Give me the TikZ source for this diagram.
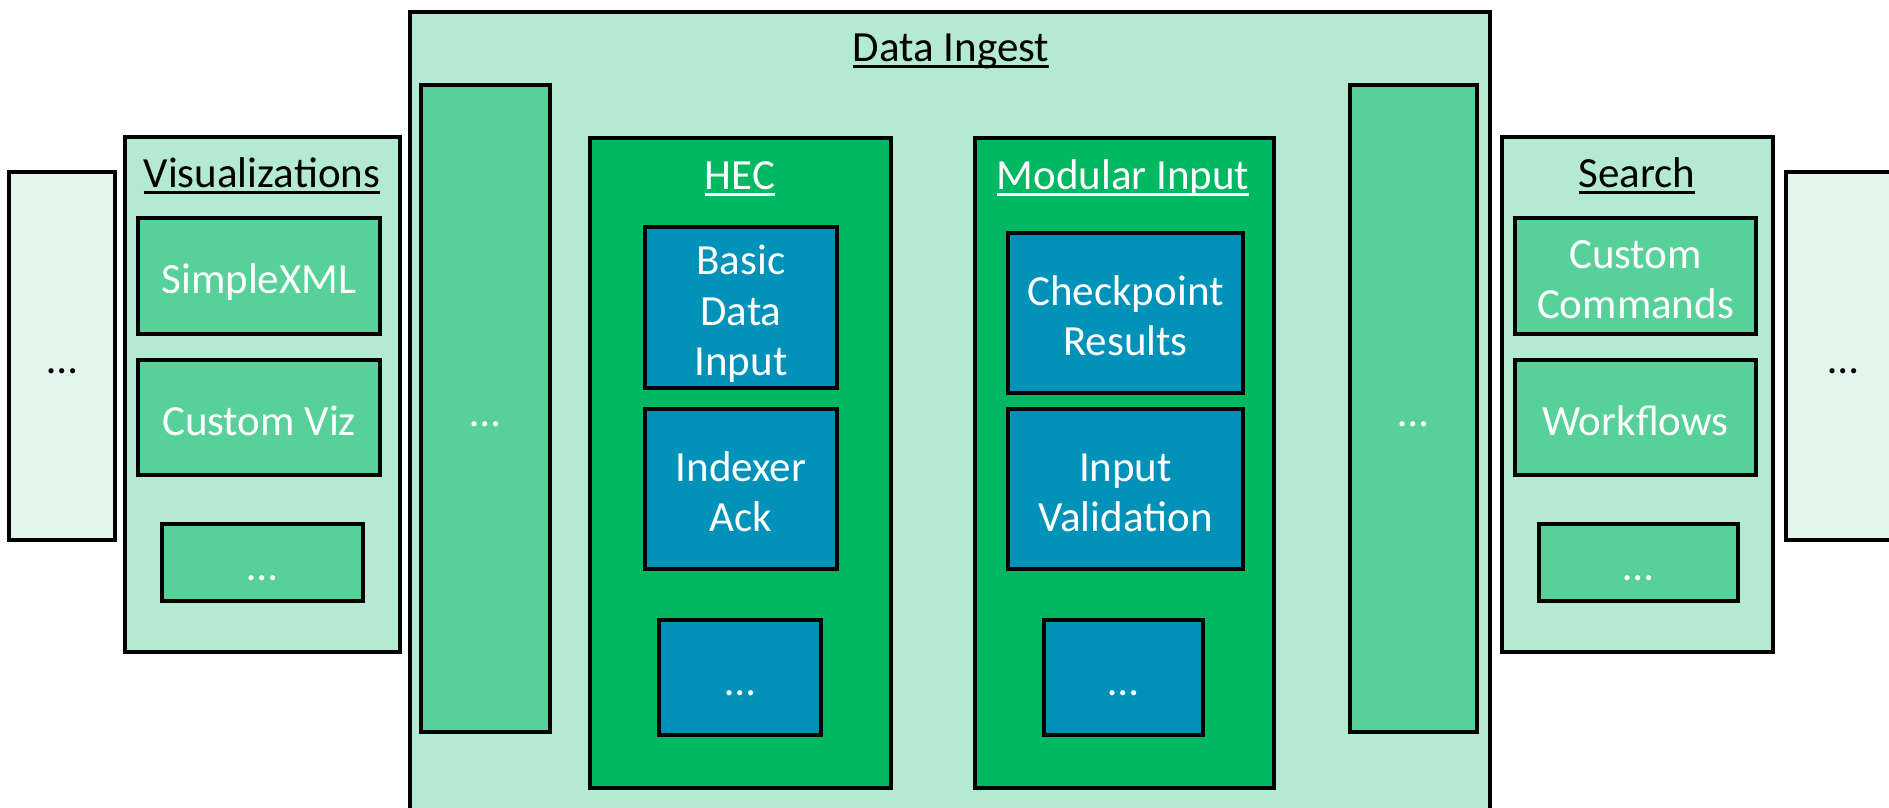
\documentclass[tikz,border=0pt]{standalone}
\usepackage{fontspec}
\setmainfont{Carlito}
\usetikzlibrary{positioning}

\definecolor{paleGreen}{HTML}{E3F5EC}
\definecolor{lightGreen}{HTML}{B3EAD1}
\definecolor{midGreen}{HTML}{57D199}
\definecolor{darkGreen}{HTML}{00B862}
\definecolor{tealBlue}{HTML}{0092B8}

\newcommand{\uhead}[1]{\setbox0\hbox{#1}\hbox{\rlap{\rule[-6.5pt]{\wd0}{3pt}}\box0}}
\newcommand{\topstrut}{\rule{0pt}{45pt}}
\newcommand{\botstrut}{\rule[-10pt]{0pt}{10pt}}

\begin{document}
\begin{tikzpicture}[x=1pt,y=-1pt]
    \tikzstyle{every node}=[rectangle,draw,line width=4.5pt,inner sep=0,align=center,text=white,font=\fontsize{43}{50.5}\selectfont,
        execute at begin node=\topstrut,execute at end node=\botstrut]
    \tikzstyle{side}=[fill=paleGreen,text=black]
    \tikzstyle{group}=[fill=lightGreen]
    \tikzstyle{part}=[fill=midGreen]
    \tikzstyle{api}=[fill=darkGreen]
    \tikzstyle{feature}=[fill=tealBlue]
    \tikzstyle{title}=[draw=none,fill=none,anchor=base]
    \useasboundingbox (0,0) rectangle (1889,808);
    {
        \node[side,minimum width=106,minimum height=368] (farL) at (62,356) {\ldots};
        \node[side,minimum width=114,minimum height=368] (farR) at (1843,356) {\ldots};

        \node[group,minimum width=275,minimum height=515] (viz) at (262.5,394.5) {};
        \node[title,text=black] (vizT) at (262,187) {\uhead{Visualizations}};
        \node[part,minimum width=242,minimum height=116] (simple) at (259,276) {SimpleXML};
        \node[part,minimum width=242,minimum height=115] (cviz) at (259,417.5) {Custom Viz};
        \node[part,minimum width=201,minimum height=77] (vizM) at (262.5,562.5) {\ldots};

        \node[group,minimum width=1080,minimum height=818] (ingest) at (950,421) {};
        \node[title,text=black] (ingestT) at (951,62) {\uhead{Data Ingest}};
        \node[part,minimum width=129,minimum height=647] (colL) at (485.5,408.5) {\ldots};
        \node[part,minimum width=127,minimum height=647] (colR) at (1413.5,408.5) {\ldots};

        \node[api,minimum width=301,minimum height=650] (hec) at (740.5,463) {};
        \node[title] (hecT) at (740,189) {\uhead{HEC}};
        \node[feature,minimum width=192,minimum height=161] (basic) at (741,307.5) {\topstrut Basic\\Data\\Input\botstrut};
        \node[feature,minimum width=192,minimum height=160] (ack) at (741,489) {\topstrut Indexer\\Ack\botstrut};
        \node[feature,minimum width=162,minimum height=115] (hecM) at (740,677.5) {\ldots};

        \node[api,minimum width=299,minimum height=650] (modin) at (1124.5,463) {};
        \node[title] (modinT) at (1123,189) {\uhead{Modular Input}};
        \node[feature,minimum width=235,minimum height=160] (check) at (1125.5,313) {\topstrut Checkpoint\\Results\botstrut};
        \node[feature,minimum width=235,minimum height=160] (valid) at (1125.5,489) {\topstrut Input\\Validation\botstrut};
        \node[feature,minimum width=159,minimum height=115] (modinM) at (1123.5,677.5) {\ldots};

        \node[group,minimum width=271,minimum height=515] (search) at (1637.5,394.5) {};
        \node[title,text=black] (searchT) at (1637,187) {\uhead{Search}};
        \node[part,minimum width=241,minimum height=116] (cmds) at (1635.5,276) {\topstrut Custom\\Commands\botstrut};
        \node[part,minimum width=241,minimum height=115] (flows) at (1635.5,417.5) {Workflows};
        \node[part,minimum width=199,minimum height=77] (searchM) at (1638.5,562.5) {\ldots};
    }
\end{tikzpicture}
\end{document}
